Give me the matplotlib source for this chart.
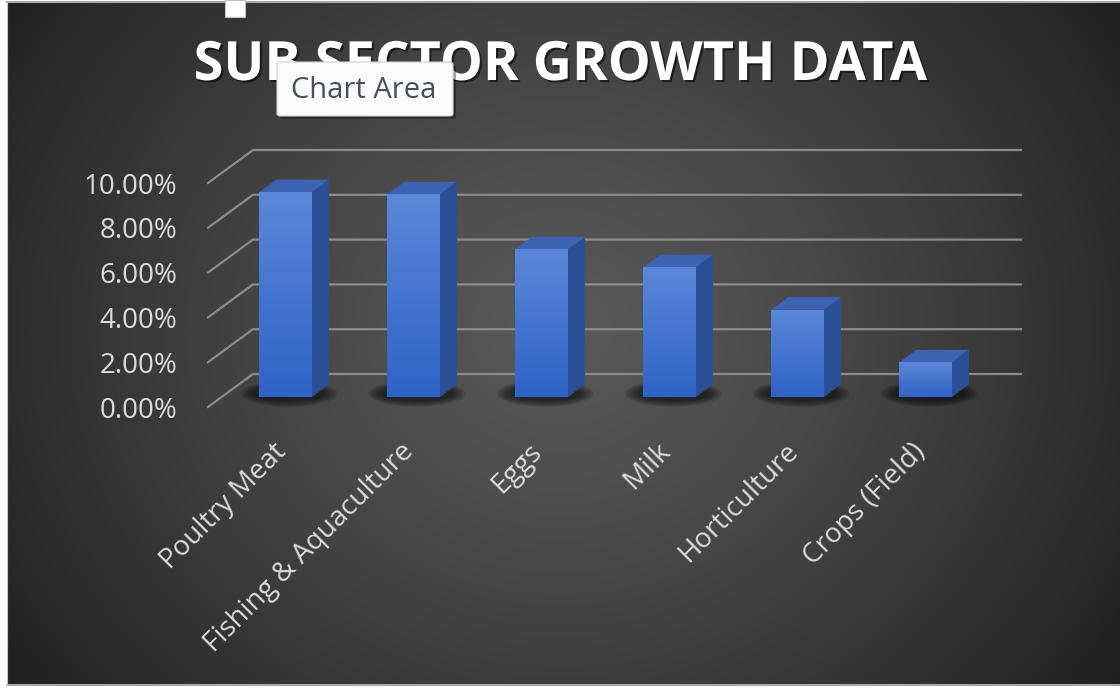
import numpy as np
import matplotlib
matplotlib.use("Agg")
import matplotlib.pyplot as plt
from matplotlib.patches import Polygon, Ellipse, FancyBboxPatch, Rectangle
from matplotlib.lines import Line2D
import matplotlib.patheffects as pe

# data
categories = ["Poultry Meat", "Fishing & Aquaculture", "Eggs", "Milk", "Horticulture", "Crops (Field)"]
growth = [9.15, 9.05, 6.6, 5.8, 3.9, 1.55]   # percent
y_ticks = [0, 2, 4, 6, 8, 10]
y_labels = ["0.00%", "2.00%", "4.00%", "6.00%", "8.00%", "10.00%"]
title = "SUB SECTOR GROWTH DATA"

W, H = 1120, 688
plt.rcParams["font.family"] = ["Open Sans", "DejaVu Sans"]

fig = plt.figure(figsize=(W / 100, H / 100), dpi=100, facecolor="white")

def fx(x):
    return x / W

def fy(y):
    return 1 - y / H

# dark chart area with radial gradient
bg = fig.add_axes([fx(7), fy(684), (1120 - 7) / W, (684 - 3) / H])
bg.set_axis_off()
yy, xx = np.mgrid[3:684:2, 7:1120:2]
r = np.sqrt(((xx - 560) / 600.0) ** 2 + ((yy - 330) / 540.0) ** 2)
shade = (88 - 48 * np.clip(r, 0, 1.3) ** 1.3) / 255.0
bg.imshow(np.dstack([shade] * 3), extent=[0, 1, 0, 1], aspect="auto", interpolation="bilinear")
bg.set_xlim(0, 1)
bg.set_ylim(0, 1)

# frame lines of the screenshot
fig.add_artist(Line2D([fx(7), 1], [fy(1.5), fy(1.5)], color="#a8a8a8", lw=1.5))
fig.add_artist(Line2D([fx(7), 1], [fy(685), fy(685)], color="#a8a8a8", lw=1.5))
fig.add_artist(Line2D([fx(6.5), fx(6.5)], [fy(685), fy(1.5)], color="#c8c8c8", lw=0.8))

# 3d-like column chart in an oblique projection
ax = fig.add_axes([fx(208), fy(407), 768 / W, 224 / H])
ax.set_xlim(-0.5, 5.5)
ax.set_ylim(0, 10)
ax.patch.set_alpha(0)
for s in ax.spines.values():
    s.set_visible(False)

DX, DY = 45 / 128, 33 / 22.4      # full depth of the floor
d1, d2 = 0.30, 0.68               # front/back depth of the columns
bw = 0.41

for v in y_ticks:
    ax.plot([-0.5, -0.5 + DX, 5.5 + DX], [v, v + DY, v + DY], color="#8c8c8c",
            lw=1.6, clip_on=False, zorder=1, solid_joinstyle="miter")

x = np.arange(len(categories))

# soft shadows under columns
for i in x:
    cx = i + (d1 + d2) / 2 * DX - 0.04
    cy = (d1 + d2) / 2 * DY - 0.12
    for k in range(6):
        e = Ellipse((cx, cy), bw * (1.85 - 0.1 * k), DY * (0.8 - 0.07 * k),
                    facecolor="black", edgecolor="none", alpha=0.12, zorder=2, clip_on=False)
        ax.add_patch(e)

bars = ax.bar(x + d1 * DX, growth, width=bw, bottom=d1 * DY, color="#3f6fcf",
              zorder=4, clip_on=False)

grad = np.linspace(0, 1, 100)[:, None]
top_c = np.array([0x5c, 0x87, 0xd9]) / 255
bot_c = np.array([0x30, 0x63, 0xc6]) / 255
img = top_c * (1 - grad[..., None]) + bot_c * grad[..., None]
for b in bars:
    x0, y0 = b.get_x(), b.get_y()
    im = ax.imshow(img, extent=[x0, x0 + b.get_width(), y0, y0 + b.get_height()],
                   aspect="auto", zorder=4.5, interpolation="bilinear")
    im.set_clip_path(b)

for i, v in zip(x, growth):
    xl, xr = i - bw / 2, i + bw / 2
    side = Polygon([(xr + d1 * DX, d1 * DY), (xr + d2 * DX, d2 * DY),
                    (xr + d2 * DX, v + d2 * DY), (xr + d1 * DX, v + d1 * DY)],
                   closed=True, facecolor="#2b4f97", edgecolor="none", zorder=3, clip_on=False)
    top = Polygon([(xl + d1 * DX, v + d1 * DY), (xr + d1 * DX, v + d1 * DY),
                   (xr + d2 * DX, v + d2 * DY), (xl + d2 * DX, v + d2 * DY)],
                  closed=True, facecolor="#3d63b2", edgecolor="none", zorder=3, clip_on=False)
    ax.add_patch(side)
    ax.add_patch(top)

ax.set_xlim(-0.5, 5.5)
ax.set_ylim(0, 10)

ax.set_yticks(y_ticks, y_labels)
ax.tick_params(axis="y", length=0, pad=22, labelsize=20, labelcolor="#dcdcdc")
ax.set_xticks(x, categories)
ax.tick_params(axis="x", length=0, pad=22, labelsize=20, labelcolor="#dcdcdc")
for lab in ax.get_xticklabels():
    lab.set_rotation(45)
    lab.set_ha("right")
    lab.set_va("top")
    lab.set_rotation_mode("anchor")

# title
fig.text(0.5, fy(66), title, ha="center", va="center", fontsize=39, fontweight="bold",
         color="white", zorder=5,
         path_effects=[pe.withSimplePatchShadow(offset=(1.5, -1.5), shadow_rgbFace="black", alpha=0.55)])

# selection handle at the top
fig.add_artist(Rectangle((fx(225), fy(17)), 20 / W, 17 / H, transform=fig.transFigure,
                         facecolor="white", edgecolor="#c0c0c0", lw=0.8, zorder=10))

# "Chart Area" tooltip
fig.add_artist(FancyBboxPatch((fx(280), fy(119)), 176 / W, 54 / H, transform=fig.transFigure,
                              boxstyle="round,pad=0,rounding_size=0.003",
                              facecolor="black", edgecolor="none", alpha=0.35, zorder=10))
fig.add_artist(FancyBboxPatch((fx(277), fy(116)), 176 / W, 54 / H, transform=fig.transFigure,
                              boxstyle="round,pad=0,rounding_size=0.003",
                              facecolor="#fbfbfb", edgecolor="#d0d0d0", lw=0.8, zorder=11))
fig.text(fx(364), fy(90), "Chart Area", ha="center", va="center", fontsize=21,
         color="#474e5c", zorder=12)

fig.savefig("out.png", dpi=100, facecolor="white")
